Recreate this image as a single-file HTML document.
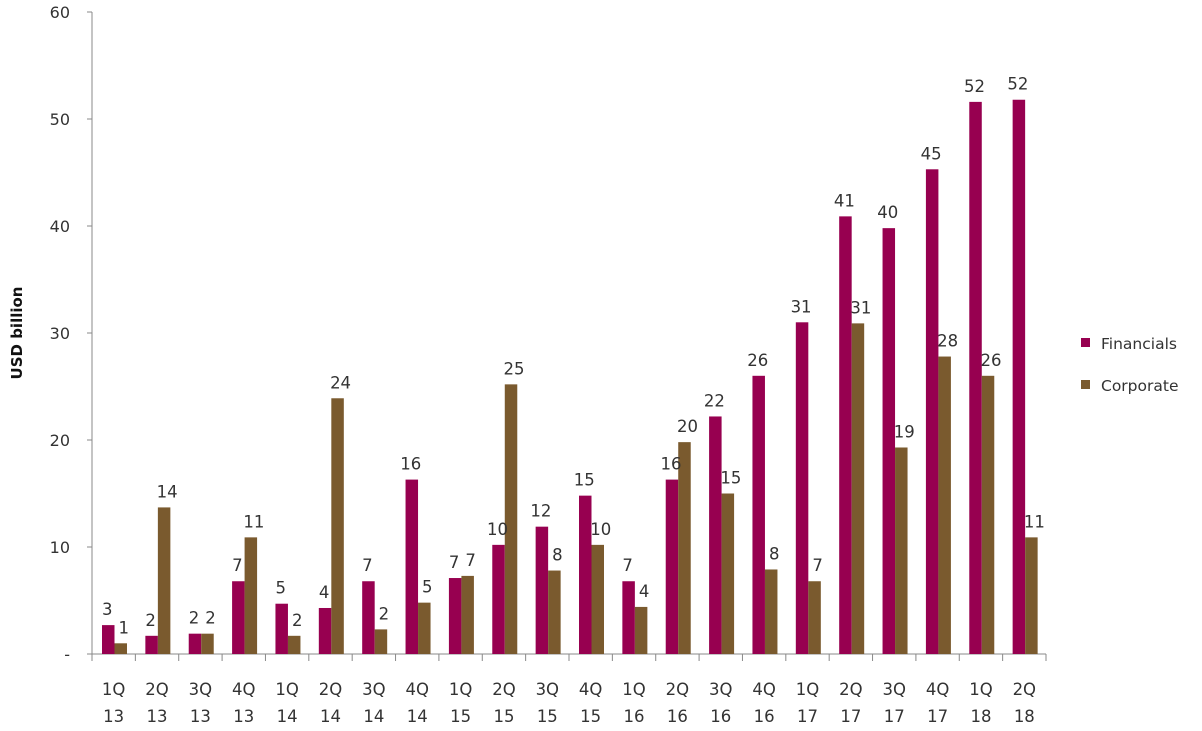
<!DOCTYPE html>
<html><head><meta charset="utf-8"><style>
body{margin:0;background:#fff;width:1202px;height:727px;overflow:hidden;font-family:"DejaVu Sans",sans-serif}
</style></head><body>
<svg id="chart" width="1202" height="727" xmlns="http://www.w3.org/2000/svg" font-family="DejaVu Sans, Liberation Sans, sans-serif"></svg>
<script>
const categories=["1Q 13","2Q 13","3Q 13","4Q 13","1Q 14","2Q 14","3Q 14","4Q 14","1Q 15","2Q 15","3Q 15","4Q 15","1Q 16","2Q 16","3Q 16","4Q 16","1Q 17","2Q 17","3Q 17","4Q 17","1Q 18","2Q 18"];
const financials=[2.7,1.7,1.9,6.8,4.7,4.3,6.8,16.3,7.1,10.2,11.9,14.8,6.8,16.3,22.2,26.0,31.0,40.9,39.8,45.3,51.6,51.8];
const corporate=[1.0,13.7,1.9,10.9,1.7,23.9,2.3,4.8,7.3,25.2,7.8,10.2,4.4,19.8,15.0,7.9,6.8,30.9,19.3,27.8,26.0,10.9];
const yTicks=[0,10,20,30,40,50,60];
const yTickLabels=["-","10","20","30","40","50","60"];
const NS="http://www.w3.org/2000/svg";
const svg=document.getElementById('chart');
const x0=92,x1=1046,yTop=12,yBot=654,yMax=60;
const cw=(x1-x0)/categories.length;
const y=v=>yBot-(v/yMax)*(yBot-yTop);
const xc=i=>x0+i*cw;
function mk(tag,attrs,txt){const e=document.createElementNS(NS,tag);for(const k in attrs)e.setAttribute(k,attrs[k]);if(txt!==undefined)e.textContent=txt;svg.appendChild(e);return e;}
const FC="#970050",CC="#7a5a2e",TC="#333";
let a=mk('line',{x1:x0,y1:yTop,x2:x0,y2:yBot,stroke:'#888','stroke-width':1});

a=mk('line',{x1:x0-5,y1:yBot,x2:x1,y2:yBot,stroke:'#888','stroke-width':1});

yTicks.forEach((t,i)=>{
  const l=mk('line',{x1:x0-5,y1:y(t),x2:x0,y2:y(t),stroke:'#888'});
  
  const tx=mk('text',{x:70,y:y(t)+6,'text-anchor':'end','font-size':16,fill:TC},yTickLabels[i]);
  
});
for(let i=0;i<=categories.length;i++){
  const l=mk('line',{x1:xc(i),y1:yBot,x2:xc(i),y2:yBot+7,stroke:'#888'});
  
}
const bw=12.5;
categories.forEach((c,i)=>{
  const parts=c.split(' ');
  const cx=xc(i)+cw/2;
  [parts[0],parts[1]].forEach((p,j)=>{
    const t=mk('text',{x:cx,y:695+j*27,'text-anchor':'middle','font-size':16.5,fill:TC},p);
    
  });
  const fx=xc(i)+10;
  const fb=mk('rect',{x:fx,y:y(financials[i]),width:bw,height:yBot-y(financials[i]),fill:FC});
  
  const cb=mk('rect',{x:fx+bw,y:y(corporate[i]),width:bw,height:yBot-y(corporate[i]),fill:CC});
  
  const fl=mk('text',{x:fx+bw/2-1,y:y(financials[i])-10,'text-anchor':'middle','font-size':16.5,fill:TC},Math.round(financials[i]));
  
  const cl=mk('text',{x:fx+bw*1.5+3,y:y(corporate[i])-10,'text-anchor':'middle','font-size':16.5,fill:TC},Math.round(corporate[i]));
  
});
const yt=mk('text',{x:22,y:333,'text-anchor':'middle','font-size':15,'font-weight':'bold',fill:'#111',transform:'rotate(-90 22 333)'},'USD billion');

[["Financials",FC,343],["Corporate",CC,385]].forEach(([n,col,ly])=>{
  const r=mk('rect',{x:1081,y:ly-5,width:9,height:9,fill:col});
  
  const t=mk('text',{x:1101,y:ly+6,'font-size':15.5,fill:TC},n);
  
});
</script>
</body></html>
